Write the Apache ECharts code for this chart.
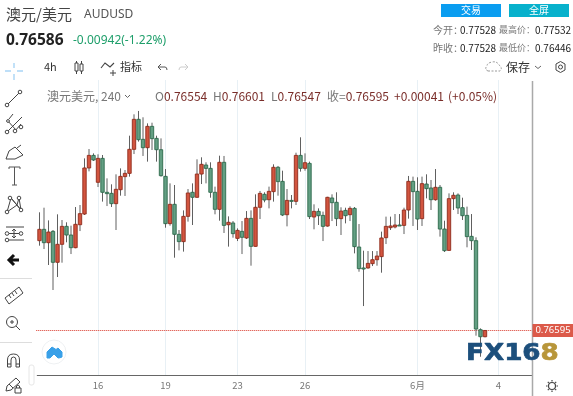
<!DOCTYPE html>
<html><head><meta charset="utf-8">
<style>html,body{margin:0;padding:0;background:#fff}#c{width:573px;height:396px}</style>
<script src="https://cdn.jsdelivr.net/npm/echarts@6/dist/echarts.min.js"></script>
</head><body><div id="c"></div>
<script>
const opens=[.77529,.77647,.77508,.77626,.77304,.77491,.77678,.77588,.77456,.77695,
.77806,.78285,.78416,.78136,.78385,.78032,.78021,.77914,.78059,.78195,
.78229,.78479,.78791,.78583,.78496,.78718,.78593,.78475,.78198,.77706,
.77907,.77595,.77519,.77782,.78032,.77980,.78222,.78316,.78281,.78032,
.77855,.78344,.77695,.77713,.77553,.77626,.77557,.77761,.77470,.77876,
.78011,.77955,.78039,.78292,.78146,.77799,.77948,.77938,.78416,.78281,
.78333,.77775,.77834,.77792,.77681,.77973,.77928,.77758,.77844,.77799,
.77865,.77463,.77245,.77245,.77290,.77331,.77363,.77560,.77664,.77671,
.77692,.77688,.77848,.78146,.78042,.77758,.78118,.78077,.77955,.78084,
.77650,.77428,.77966,.78004,.77872,.77792,.77574,.77529,.76603,.76530];
const closes=[.77647,.77508,.77619,.77304,.77491,.77678,.77588,.77456,.77699,.77810,
.78285,.78416,.78368,.78385,.78032,.78018,.77914,.78063,.78198,.78229,
.78479,.78791,.78579,.78496,.78718,.78590,.78475,.78205,.77706,.77907,
.77595,.77519,.77782,.78025,.77980,.78222,.78323,.78281,.78032,.77855,
.78344,.77688,.77720,.77602,.77636,.77564,.77761,.77470,.77876,.78021,
.77952,.78042,.78292,.78143,.77796,.77948,.77938,.78416,.78281,.78340,
.77779,.77834,.77789,.77678,.77980,.77924,.77758,.77837,.77789,.77865,
.77467,.77238,.77234,.77293,.77331,.77369,.77557,.77678,.77682,.77692,
.77682,.77848,.78146,.78039,.77754,.78122,.78070,.77955,.78084,.77650,
.77425,.77966,.78001,.77869,.77789,.77571,.77529,.76610,.76530,.76595];
const highs=[.77824,.77872,.77740,.77640,.77803,.77744,.77720,.77685,.77879,.77900,
.78385,.78482,.78437,.78427,.78420,.78177,.78115,.78219,.78281,.78264,
.78621,.78843,.78878,.78812,.78749,.78756,.78621,.78593,.78274,.78125,
.78108,.77640,.77844,.78066,.78125,.78375,.78396,.78344,.78344,.78091,
.78413,.78410,.77782,.77733,.77657,.77733,.77837,.77844,.78011,.78046,
.78032,.78091,.78323,.78306,.78257,.78066,.78004,.78444,.78604,.78437,
.78351,.77907,.77865,.77831,.77985,.78011,.78032,.77876,.77872,.77886,
.77879,.77702,.77425,.77421,.77421,.77421,.77623,.77779,.77779,.77806,
.77806,.77872,.78202,.78195,.78188,.78195,.78219,.78160,.78274,.78108,
.77737,.78021,.78032,.78021,.77976,.77883,.77806,.77564,.76617,.76600];
const lows=[.77477,.77442,.77276,.77016,.77151,.77300,.77512,.77390,.77450,.77629,
.77796,.78250,.78358,.78087,.77935,.77889,.77879,.77640,.77997,.77994,
.78195,.78430,.78559,.78410,.78351,.78472,.78351,.78195,.77664,.77685,
.77352,.77428,.77415,.77727,.77692,.77976,.78118,.78125,.77976,.77803,
.77737,.77609,.77467,.77560,.77525,.77390,.77546,.77269,.77467,.77754,
.77928,.77865,.77935,.77997,.77785,.77678,.77865,.77900,.78247,.78257,
.77754,.77647,.77692,.77525,.77675,.77733,.77681,.77588,.77709,.77733,
.77397,.77206,.76849,.77238,.77265,.77269,.77196,.77494,.77640,.77657,
.77682,.77598,.77758,.77682,.77640,.77682,.77969,.77848,.77945,.77571,
.77411,.77425,.77848,.77806,.77744,.77460,.77432,.76541,.76322,.76524];
const slotCount=110;
const dayTickIndex=[13,28,44,59,84,102];
const dayTickLabels=['16','19','23','26','6月','4'];
const lastPrice=0.76595;

const categories=Array.from({length:slotCount},(_,i)=>{const k=dayTickIndex.indexOf(i);return k<0?'':dayTickLabels[k];});
const rows=opens.map((o,i)=>[i,o,closes[i],lows[i],highs[i]]);
const CJK='"Noto Sans CJK SC","Noto Sans",sans-serif';
const chart=echarts.init(document.getElementById('c'),null,{renderer:'canvas'});

function txt(x,y,text,size,fill,extra){return {type:'text',x,y,silent:true,z:50,style:Object.assign({text,font:size+'px '+CJK,fill,textVerticalAlign:'middle'},extra||{})};}
let icN=0;
function ic(d,stroke,lw,fill,dash){const name='ic'+(icN++);echarts.graphic.registerShape(name,echarts.graphic.extendPath(d,{}));return {type:name,silent:true,z:50,style:{stroke:stroke||'#444',lineWidth:lw||1,fill:fill||'none',lineDash:dash||null}};}
function circ(x,y,r,stroke){return {type:'circle',silent:true,z:50,shape:{cx:x,cy:y,r:r||1.8},style:{stroke:stroke||'#444',lineWidth:1,fill:'#fff'}};}
function box(x,y,w,h,fill){return {type:'rect',silent:true,z:40,shape:{x,y,width:w,height:h},style:{fill}};}

const graphics=[
 txt(6,14.5,'澳元/美元',15,'#444'),
 txt(84,15,'AUDUSD',12,'#555',{font:'12px "Noto Sans",sans-serif'}),
 txt(6,41,'0.76586',15.5,'#222',{font:'bold 15.5px "Noto Sans",sans-serif'}),
 txt(73,41,'-0.00942(-1.22%)',12,'#1f9f6b',{font:'12px "Noto Sans",sans-serif'}),
 box(441,4,60,13,'#0a9df0'),box(509,4,60,13,'#07b1cc'),
 txt(471,10.5,'交易',10,'#fff',{textAlign:'center'}),
 txt(539,10.5,'全屏',10,'#fff',{textAlign:'center'}),
 txt(433,30,'今开：',10,'#777'),txt(460,30,'0.77528',10,'#222'),
 txt(499,30,'最高价：',9,'#777'),txt(535,30,'0.77532',10,'#222'),
 txt(433,48,'昨收：',10,'#777'),txt(460,48,'0.77528',10,'#222'),
 txt(499,48,'最低价：',9,'#777'),txt(535,48,'0.76446',10,'#222'),
 txt(44,67,'4h',11,'#333'),
 ic('M76.5 61V74M81.5 61V74','#444',1),
 {type:'rect',silent:true,z:50,shape:{x:75,y:63,width:3,height:8},style:{stroke:'#444',fill:'#fff'}},
 {type:'rect',silent:true,z:50,shape:{x:80,y:64,width:3,height:7},style:{stroke:'#444',fill:'#fff'}},
 ic('M101 68L105 63L110 67L114 63','#444',1.1),ic('M113 70V76M110 73H116','#444',1),
 txt(120,67,'指标',11,'#333'),
 ic('M158 67H165Q167 67 167 70M158 67L161 64M158 67L161 70','#555',1),
 ic('M188 67H181Q179 67 179 70M188 67L185 64M188 67L185 70','#ccc',1),
 ic('M488 71H500Q503 68 499 65Q497 61 492 62Q487 63 487 66Q484 69 488 71','#999',1,'none',[2,1.5]),
 txt(506,67,'保存',12,'#333'),
 ic('M535 66L538 68.5L541 66','#666',1),
 ic('M560.5 61.5L565 64V70L560.5 72.5L556 70V64Z','#444',1),circ(560.5,67,2,'#444'),
 // left tools
 ic('M5 71H11M17 71H23M14 63V68M14 74V80','#a9d5f6',1.4),
 ic('M8 104L19 93','#444',1),circ(7,105),circ(20,92),
 ic('M7 132L22 117M7 120L16 130M13 114L9 119M21 124L15 131','#444',1),circ(7,132),circ(15,131),circ(21,127),circ(8,121,1.4),
 ic('M6 159L9 151L15 147L23 155L15 159ZM17 148L21 145','#444',1),
 ic('M9 167H20M14.5 167V185M12 185H17M9 167V169M20 167V169','#555',1),
 ic('M7 212L11 198M11 198L17 205M19 198L17 205M19 198L21 210M7 212L17 205M17 205L21 210M11 198L21 210','#444',1),circ(7,212),circ(10,198),circ(19,198),circ(21,210),
 ic('M6 227H24M9 233.5H21M9 240H24M14 229V238M12 231L14 229L16 231M12 236L14 238L16 236','#444',1),circ(7,233.5),circ(21,233.5),circ(7,240),
 ic('M19 260H9M14 255L9 260L14 265','#111',3),
 {type:'line',silent:true,z:50,shape:{x1:0,y1:278.5,x2:32,y2:278.5},style:{stroke:'#ddd',lineWidth:1}},
 {type:'line',silent:true,z:50,shape:{x1:0,y1:342.5,x2:32,y2:342.5},style:{stroke:'#ddd',lineWidth:1}},
 ic('M5 298L19 287L23 293L9 304ZM9 295L11 298M12 293L14 296M15 291L17 294','#444',1),
 {type:'circle',silent:true,z:50,shape:{cx:12,cy:322,r:5.5},style:{stroke:'#444',fill:'none'}},
 ic('M16 326L20 330M10 322H14M12 320V324','#444',1),
 ic('M7.5 367V360Q7.5 354 13.5 354Q19.5 354 19.5 360V367H16V360Q16 357 13.5 357Q11 357 11 360V367ZM7.5 364H11M16 364H19.5','#444',1),
 ic('M6 391L7 386L16 378L20 382L11 390ZM9 384L13 388','#444',1),
 ic('M15 393V388H21V393ZM16.5 388V386Q18 384 19.5 386V388','#444',1),
 ic('M31 365H32Q34 365 34 367V383Q34 385 32 385H31Q29 385 29 383V367Q29 365 31 365Z','#e6e6e6',1),
 // cloud button
 {type:'circle',silent:true,z:45,shape:{cx:54,cy:352,r:12},style:{fill:'#fff',stroke:'#eef0f2',lineWidth:1}},
 ic('M47 358L47 352L52 347L56 349.5L58 348L62 352L62 357Q60 358 58 358L54 354L50 358Z','#39a0e8',1,'#39a0e8'),
 // right-hand rail
 {type:'line',silent:true,z:30,shape:{x1:532.5,y1:81,x2:532.5,y2:396},style:{stroke:'#a9a9a9',lineWidth:1.5}},
 box(532.5,324,40.5,13,'#dc5a4a'),
 txt(553,330.5,'0.76595',9.5,'#fff',{textAlign:'center',font:'9.5px "Noto Sans",sans-serif'}),
 {type:'circle',silent:true,z:50,shape:{cx:552,cy:386,r:3.5},style:{stroke:'#444',lineWidth:1.2,fill:'none'}},
 ic('M552 380V381.5M552 390.5V392M546 386H547.5M556.5 386H558M547.8 381.8L548.8 382.8M555.2 389.2L556.2 390.2M547.8 390.2L548.8 389.2M555.2 382.8L556.2 381.8','#444',1.2),
 // watermark
 {type:'text',x:466,y:354.5,scaleX:1.14,silent:true,z:60,style:{text:'FX16',font:'bold 23px "DejaVu Sans"',fill:'#1c4f7c',stroke:'#1c4f7c',lineWidth:0.7,textVerticalAlign:'middle'}},
 {type:'text',x:540.5,y:354.5,scaleX:1.14,silent:true,z:60,style:{text:'8',font:'bold 23px "DejaVu Sans"',fill:'#b8963a',stroke:'#b8963a',lineWidth:0.7,textVerticalAlign:'middle'}},
 // OHLC legend
 {type:'text',x:47,y:96,silent:true,z:50,style:{text:'澳元美元, 240',font:'12px '+CJK,fill:'#777',textVerticalAlign:'middle'}},
 ic('M125 95L127.5 97.5L130 95','#666',1),
 {type:'text',x:155,y:96,silent:true,z:50,style:{text:'{l|O}{v|0.76554}',textVerticalAlign:'middle',rich:{l:{fill:'#777',font:'12px '+CJK},v:{fill:'#7a2e2a',font:'12px '+CJK}}}},
 {type:'text',x:213,y:96,silent:true,z:50,style:{text:'{l|H}{v|0.76601}',textVerticalAlign:'middle',rich:{l:{fill:'#777',font:'12px '+CJK},v:{fill:'#7a2e2a',font:'12px '+CJK}}}},
 {type:'text',x:271,y:96,silent:true,z:50,style:{text:'{l|L}{v|0.76547}',textVerticalAlign:'middle',rich:{l:{fill:'#777',font:'12px '+CJK},v:{fill:'#7a2e2a',font:'12px '+CJK}}}},
 {type:'text',x:327,y:96,silent:true,z:50,style:{text:'{l|收=}{v|0.76595}',textVerticalAlign:'middle',rich:{l:{fill:'#777',font:'12px '+CJK},v:{fill:'#7a2e2a',font:'12px '+CJK}}}},
 txt(394,96,'+0.00041',12,'#7a2e2a'),
 txt(448,96,'(+0.05%)',12,'#7a2e2a')
];

chart.setOption({
 animation:false,
 grid:{left:37.25,width:495,top:80,height:295,containLabel:false},
 xAxis:{type:'category',data:categories,boundaryGap:true,
  axisLine:{show:true,lineStyle:{color:'#666',width:1}},
  axisTick:{show:false,alignWithLabel:true},
  axisLabel:{interval:0,color:'#777',fontSize:9.5,margin:6,fontFamily:CJK},
  splitLine:{show:true,alignWithLabel:true,interval:(i,v)=>v!=='',lineStyle:{color:'#e8f0f5',width:1}}},
 yAxis:{type:'value',show:false,min:0.76132,max:0.792,splitLine:{show:false}},
 series:[{type:'custom',data:rows,clip:false,z:3,
  encode:{x:0,y:[1,2,3,4]},
  renderItem(params,api){
   const i=api.value(0),o=api.value(1),c=api.value(2),l=api.value(3),h=api.value(4);
   const up=c>=o;
   const x=api.coord([i,o])[0];
   const yo=api.coord([i,o])[1],yc=api.coord([i,c])[1],yl=api.coord([i,l])[1],yh=api.coord([i,h])[1];
   const top=Math.min(yo,yc),bh=Math.max(Math.abs(yo-yc),1);
   return {type:'group',children:[
    {type:'line',shape:{x1:x,y1:yh,x2:x,y2:yl},style:{stroke:'#606060',lineWidth:1}},
    {type:'rect',shape:{x:x-1.7,y:top,width:3.4,height:bh},style:{fill:up?'#d2553f':'#639f83',stroke:up?'#8f2a1b':'#2d6a4c',lineWidth:0.9}}
   ]};
  }
 },{type:'custom',data:[[0,lastPrice]],clip:false,z:2,
  encode:{x:0,y:1},
  renderItem(params,api){
   const y=Math.floor(api.coord([0,api.value(1)])[1])+0.5,cs=params.coordSys;
   return {type:'line',shape:{x1:cs.x-1,y1:y,x2:cs.x+cs.width,y2:y},style:{stroke:'#d9372a',lineWidth:1,lineDash:[1,1]}};
  }
 }],
 graphic:{elements:graphics}
});
</script></body></html>
